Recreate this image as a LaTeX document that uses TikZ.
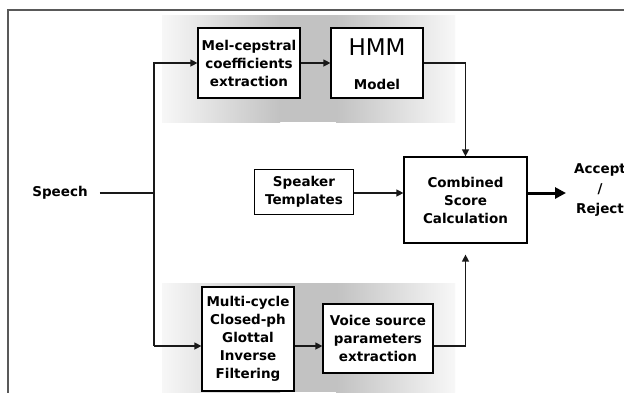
\documentclass[tikz,border=0pt]{standalone}
\usepackage{fontspec}
\setmainfont{DejaVu Sans}
\usetikzlibrary{arrows.meta,calc}
\begin{document}
\begin{tikzpicture}[x=1pt,y=-1pt,
  box/.style={draw=black, line width=1.2pt, fill=white, align=center, inner sep=0pt,
              font=\bfseries\fontsize{13.5}{18}\selectfont},
  conn/.style={draw=black!90, line width=1.3pt},
  arr/.style={conn, -{Triangle[length=7pt,width=7pt]}},
  lbl/.style={font=\bfseries\fontsize{13.5}{18}\selectfont, align=center, inner sep=0pt}]
\useasboundingbox (0,0) rectangle (624,392);
\fill[white] (0,0) rectangle (624,392);
% shaded bands
\foreach \ya/\yb in {15/122, 283/392} {
  \shade[left color=gray!6, right color=gray!48] (162,\ya) rectangle (280,\yb);
  \fill[gray!48] (279.5,\ya) rectangle (336.5,\yb);
  \shade[left color=gray!48, right color=gray!6] (336,\ya) rectangle (455,\yb);
}
% frame
\draw[line width=1.6pt, black!65] (8,396) -- (8,10) -- (628,10);
% nodes
\node[box, minimum width=102pt, minimum height=70pt] (mel) at (249,63) {Mel-cepstral\\coefficients\\extraction};
\node[box, minimum width=92pt, minimum height=70pt] (hmm) at (377,63) {};
\node[font=\fontsize{23}{23}\selectfont, inner sep=0pt] (hmmt) at (377,47) {HMM};
\node[lbl] (hmml) at (377,84) {Model};
\node[box, minimum width=99pt, minimum height=45pt] (spk) at (304,192) {Speaker\\Templates};
\node[box, minimum width=123pt, minimum height=86pt] (comb) at (465.5,200) {Combined\\Score\\Calculation};
\node[box, minimum width=92pt, minimum height=104pt] (multi) at (248,339) {Multi-cycle\\Closed-ph\\Glottal\\Inverse\\Filtering};
\node[box, minimum width=110pt, minimum height=69pt] (voice) at (378,338.5) {Voice source\\parameters\\extraction};
\node[lbl] (speech) at (60,193) {Speech};
\node[lbl, font=\bfseries\fontsize{13.5}{20}\selectfont] (acc) at (600,190) {Accept\\/\\Reject};
% coordinates
\coordinate (sp) at (154,193);
\coordinate (mb) at (154,346);
\coordinate (sy) at (0,193);
\coordinate (cb) at ($(comb.south)+(0,11)$);
\coordinate (accin) at (566,193);
% connectors
\draw[conn] ([xshift=12pt]speech.east) -- (sp);
\draw[arr] (sp) |- (mel.west);
\draw[conn] (sp) -- (mb);
\draw[arr] (mb) -- (mb -| multi.west);
\draw[arr] (mel) -- (hmm);
\draw[arr] (hmm.east) -| (comb.north);
\draw[arr] (mb -| multi.east) -- (mb -| voice.west);
\draw[arr] (mb -| voice.east) -| (cb);
\draw[arr] (spk.east |- sy) -- (comb.west |- sy);
\draw[line width=3pt, -{Triangle[length=11pt,width=11pt]}] (comb.east |- sy) -- (accin);
\end{tikzpicture}
\end{document}
